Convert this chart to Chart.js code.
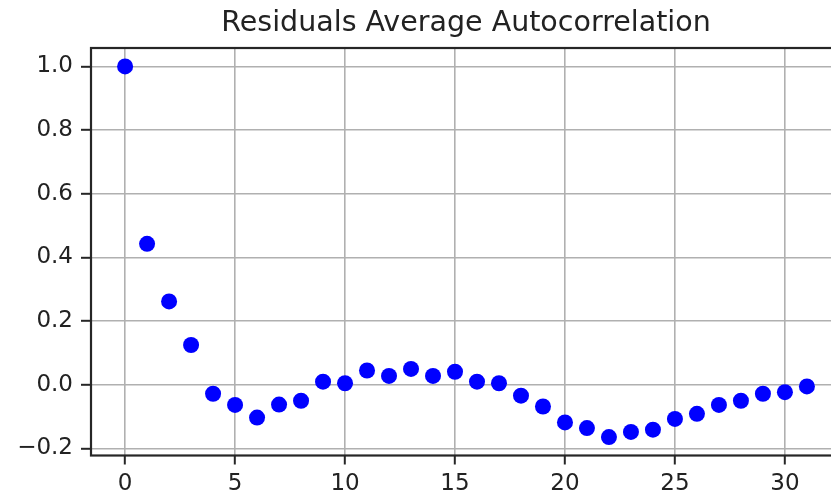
<!DOCTYPE html>
<html><head><meta charset="utf-8">
<script src="https://cdn.jsdelivr.net/npm/chart.js@4.4.0/dist/chart.umd.min.js"></script>
<style>
html,body{margin:0;padding:0;background:#fff;overflow:hidden;}
#wrap{width:831px;height:493px;overflow:hidden;position:relative;}
canvas{display:block;}
</style>
</head><body>
<div id="wrap"><canvas id="c" width="932" height="493"></canvas></div>
<script>
const titleText = 'Residuals Average Autocorrelation';
const lags = [0,1,2,3,4,5,6,7,8,9,10,11,12,13,14,15,16,17,18,19,20,21,22,23,24,25,26,27,28,29,30,31];
const acf = [1.0,0.443,0.262,0.125,-0.028,-0.063,-0.103,-0.062,-0.050,0.010,0.005,0.045,
             0.028,0.050,0.028,0.041,0.010,0.005,-0.034,-0.068,-0.118,-0.136,-0.164,-0.148,
             -0.141,-0.107,-0.091,-0.063,-0.050,-0.028,-0.023,-0.005];
const xTicks = [0,5,10,15,20,25,30];
const yTicks = [-0.2,0.0,0.2,0.4,0.6,0.8,1.0];
const xRange = [-1.55, 32.55];
const yRange = [-0.222, 1.058];

const FONT = 'DejaVu Sans';
const TEXT = '#222222';
const GRID = '#b0b0b0';
const SPINE = '#262626';

const framePlugin = {
  id: 'frame',
  afterDatasetsDraw(chart) {
    const a = chart.chartArea, ctx = chart.ctx;
    ctx.save();
    ctx.strokeStyle = SPINE;
    ctx.lineWidth = 2.2;
    ctx.strokeRect(a.left, a.top, a.right - a.left, a.bottom - a.top);
    ctx.restore();
  }
};

new Chart(document.getElementById('c'), {
  type: 'scatter',
  data: {
    datasets: [{
      data: lags.map((x, i) => ({x: x, y: acf[i]})),
      backgroundColor: '#0000ff',
      borderWidth: 0,
      pointRadius: 8,
      pointHoverRadius: 8
    }]
  },
  options: {
    responsive: false,
    animation: false,
    devicePixelRatio: 1,
    events: [],
    layout: {padding: {left: 0, top: 0, right: 91, bottom: 0}},
    plugins: {
      legend: {display: false},
      tooltip: {enabled: false},
      title: {
        display: true,
        fullSize: false,
        text: titleText,
        color: TEXT,
        font: {family: FONT, size: 28.5, weight: 'normal', lineHeight: 1.2},
        padding: {top: 6.5, bottom: 7.3}
      }
    },
    scales: {
      x: {
        type: 'linear',
        min: xRange[0], max: xRange[1],
        afterBuildTicks: s => { s.ticks = xTicks.map(v => ({value: v})); },
        afterFit: s => { s.height = 37.5; },
        border: {display: false},
        grid: {color: GRID, lineWidth: 1.6, drawTicks: true, tickLength: 9, tickColor: SPINE, tickWidth: 2},
        ticks: {color: TEXT, font: {family: FONT, size: 23}, padding: 6, maxRotation: 0,
                callback: v => String(v)}
      },
      y: {
        type: 'linear',
        min: yRange[0], max: yRange[1],
        afterBuildTicks: s => { s.ticks = yTicks.map(v => ({value: v})); },
        afterFit: s => { s.width = 91; },
        border: {display: false},
        grid: {color: GRID, lineWidth: 1.6, drawTicks: true, tickLength: 10, tickColor: SPINE, tickWidth: 2},
        ticks: {color: TEXT, font: {family: FONT, size: 23}, padding: 8,
                callback: v => v.toFixed(1).replace('-', '\u2212')}
      }
    }
  },
  plugins: [framePlugin]
});
</script>
</body></html>
